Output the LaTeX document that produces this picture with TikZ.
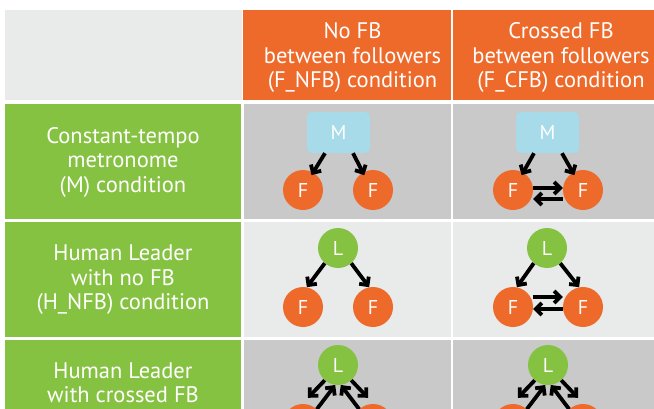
\documentclass[tikz,border=0pt]{standalone}
\usepackage{fontspec}
\setmainfont{PT Sans}
\usetikzlibrary{arrows.meta}
\definecolor{hdrorange}{HTML}{EE6A2B}
\definecolor{rowgreen}{HTML}{86C242}
\definecolor{metroblue}{HTML}{A7DBEA}
\definecolor{darkcell}{HTML}{C8C9C8}
\definecolor{lightcell}{HTML}{E9EBEA}
\begin{document}
\begin{tikzpicture}[x=1pt,y=-1pt,
    celltext/.style={text=white,align=center,inner sep=0pt,font=\fontsize{22.5}{24.5}\selectfont},
    follower/.style={circle,fill=hdrorange,text=white,minimum size=40pt,inner sep=0pt,font=\fontsize{20}{20}\selectfont},
    leader/.style={circle,fill=rowgreen,text=white,minimum size=40pt,inner sep=0pt,font=\fontsize{20}{20}\selectfont},
    metro/.style={rectangle,rounded corners=5pt,fill=metroblue,text=white,minimum width=63pt,minimum height=41pt,inner sep=0pt,font=\fontsize{20}{20}\selectfont},
    arr/.style={line width=3.8pt,-{Straight Barb[length=6pt,width=12pt]}}]%
        \useasboundingbox (0,0) rectangle (654,408);
        \clip (0,0) rectangle (654,408);
        \fill[white] (0,0) rectangle (654,408);
        % table cells
        \fill[lightcell] (5,10) rectangle (242,100);
        \fill[hdrorange] (243,10) rectangle (451,100);
        \fill[hdrorange] (453,10) rectangle (654,100);
        \fill[rowgreen] (5,104) rectangle (241,219);
        \fill[darkcell] (244,104) rectangle (451,219);
        \fill[darkcell] (453,104) rectangle (654,219);
        \fill[rowgreen] (5,222) rectangle (241,337);
        \fill[lightcell] (244,222) rectangle (451,337);
        \fill[lightcell] (453,222) rectangle (654,337);
        \fill[rowgreen] (5,340) rectangle (241,455);
        \fill[darkcell] (244,340) rectangle (451,455);
        \fill[darkcell] (453,340) rectangle (654,455);
        % headers
        \node[celltext] (nfb) at (352.5,57.5) {No FB\\between followers\\(F\_NFB) condition};
        \node[celltext] (cfb) at (561,57.5) {Crossed FB\\between followers\\(F\_CFB) condition};
        \node[celltext] (mlab) at (123,162) {Constant-tempo\\metronome\\(M) condition};
        \node[celltext] (hnfb) at (123,280) {Human Leader\\with no FB\\(H\_NFB) condition};
        \node[celltext] (hcfb) at (123,383) {Human Leader\\with crossed FB};
        % metronome row
        \node[metro] (mN) at (338.5,132.5) {M};
        \node[follower] (mNf1) at (303,190) {F};
        \node[follower] (mNf2) at (373,190) {F};
        \draw[arr,shorten >=-3pt] ([xshift=-13.5pt]mN.south) -- (mNf1.60);
        \draw[arr,shorten >=-3pt] ([xshift=14.5pt]mN.south) -- (mNf2.120);
        \node[metro] (mC) at (547.5,132.5) {M};
        \node[follower] (mCf1) at (513,190) {F};
        \node[follower] (mCf2) at (583,190) {F};
        \draw[arr,shorten >=-3pt] ([xshift=-13.5pt]mC.south) -- (mCf1.60);
        \draw[arr,shorten >=-3pt] ([xshift=14.5pt]mC.south) -- (mCf2.120);
        \draw[arr] ([yshift=2pt]mCf1.east) -- ([yshift=2pt]mCf2.west);
        \draw[arr] ([yshift=-9pt]mCf2.west) -- ([yshift=-9pt]mCf1.east);
        % leader, no FB row
        \node[leader] (hN) at (338,248) {L};
        \node[follower] (hNf1) at (303,307) {F};
        \node[follower] (hNf2) at (373,307) {F};
        \draw[arr] (hN.-131) -- (hNf1.79);
        \draw[arr] (hN.-49) -- (hNf2.101);
        \node[leader] (hC) at (547,248) {L};
        \node[follower] (hCf1) at (513,307) {F};
        \node[follower] (hCf2) at (583,307) {F};
        \draw[arr] (hC.-131) -- (hCf1.79);
        \draw[arr] (hC.-49) -- (hCf2.101);
        \draw[arr] ([yshift=10pt]hCf1.east) -- ([yshift=10pt]hCf2.west);
        \draw[arr] ([yshift=-2pt]hCf2.west) -- ([yshift=-2pt]hCf1.east);
        % leader, crossed FB row
        \node[leader] (xN) at (338,365) {L};
        \node[follower] (xNf1) at (303,424) {};
        \node[follower] (xNf2) at (373,424) {};
        \draw[arr] (xN.-131) -- ([xshift=5pt,yshift=6pt]xNf1.north);
        \draw[arr] (xNf1.47) -- (xN.-98);
        \draw[arr] (xN.-49) -- ([xshift=-5pt,yshift=6pt]xNf2.north);
        \draw[arr] (xNf2.133) -- (xN.-82);
        \node[leader] (xC) at (548,365) {L};
        \node[follower] (xCf1) at (513,424) {};
        \node[follower] (xCf2) at (583,424) {};
        \draw[arr] (xC.-131) -- ([xshift=5pt,yshift=6pt]xCf1.north);
        \draw[arr] (xCf1.47) -- (xC.-98);
        \draw[arr] (xC.-49) -- ([xshift=-5pt,yshift=6pt]xCf2.north);
        \draw[arr] (xCf2.133) -- (xC.-82);
    \end{tikzpicture}
\end{document}
